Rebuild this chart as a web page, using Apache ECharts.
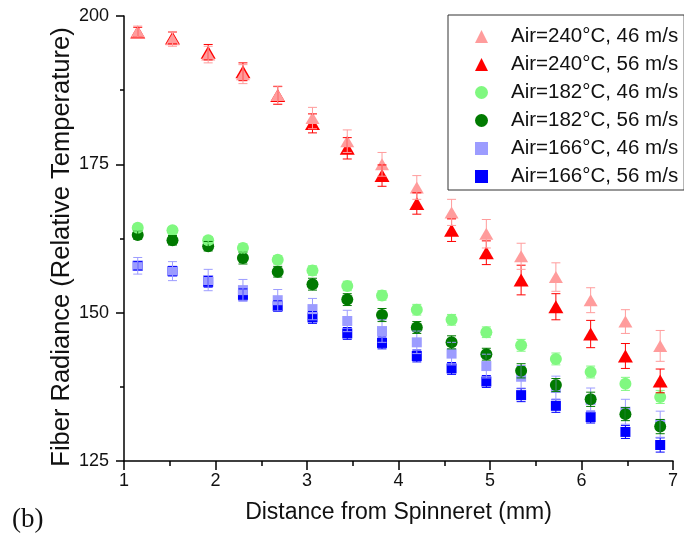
<!DOCTYPE html>
<html>
<head>
<meta charset="utf-8">
<script src="https://cdn.jsdelivr.net/npm/echarts@6/dist/echarts.min.js"></script>
<style>
  html, body { margin: 0; padding: 0; background: #fff; }
  #chart { width: 684px; height: 541px; }
</style>
</head>
<body>
<div id="chart"></div>
<script>
'use strict';
// distance from spinneret (mm)
var distances = [1.15, 1.53, 1.92, 2.30, 2.68, 3.06, 3.44, 3.82, 4.20, 4.58, 4.96, 5.34, 5.72, 6.10, 6.48, 6.86];

var seriesNames = ['Air=240°C, 46 m/s', 'Air=240°C, 56 m/s', 'Air=182°C, 46 m/s',
                   'Air=182°C, 56 m/s', 'Air=166°C, 46 m/s', 'Air=166°C, 56 m/s'];

var radiance240_46 = [197.4, 196.1, 193.5, 190.2, 186.7, 182.8, 178.9, 175.0, 171.1, 166.9, 163.3, 159.5, 156.0, 152.1, 148.5, 144.4];
var radiance240_56 = [197.3, 196.3, 193.9, 190.6, 186.6, 181.9, 177.7, 173.1, 168.4, 163.9, 160.1, 155.5, 151.0, 146.4, 142.7, 138.5];
var radiance182_46 = [164.3, 163.9, 162.2, 160.9, 158.9, 157.1, 154.5, 152.9, 150.5, 148.8, 146.7, 144.5, 142.2, 140.0, 138.0, 135.8];
var radiance182_56 = [163.1, 162.2, 161.2, 159.2, 156.9, 154.8, 152.2, 149.6, 147.5, 145.0, 143.0, 140.2, 137.8, 135.4, 132.9, 130.8];
var radiance166_46 = [157.9, 157.0, 155.5, 153.8, 152.1, 150.6, 148.6, 146.9, 145.0, 143.1, 141.0, 139.2, 137.3, 135.3, 133.3, 131.2];
var radiance166_56 = [157.9, 157.0, 155.2, 153.0, 151.1, 149.2, 146.5, 144.9, 142.7, 140.6, 138.4, 136.1, 134.3, 132.4, 129.9, 127.7];

// error bar half-lengths
var err240_46 = [0.9, 1.2, 1.4, 1.6, 1.5, 1.8, 1.9, 2.0, 2.0, 2.2, 2.4, 2.2, 2.4, 2.1, 2.0, 2.6];
var err240_56 = [0.8, 1.0, 1.3, 1.5, 1.5, 1.6, 1.8, 1.8, 1.8, 1.9, 2.0, 2.5, 2.2, 2.3, 2.1, 2.0];
var err182_46 = [0.5, 0.6, 0.6, 0.7, 0.7, 0.8, 0.8, 0.8, 0.9, 0.9, 0.9, 1.0, 1.0, 1.0, 1.1, 1.1];
var err182_56 = [0.7, 0.8, 0.8, 1.0, 0.9, 1.0, 1.0, 1.1, 1.0, 1.1, 1.0, 1.2, 1.1, 1.2, 1.1, 1.2];
var err166_46 = [1.4, 1.6, 1.8, 1.8, 1.8, 1.8, 1.8, 1.9, 1.9, 1.9, 2.0, 1.9, 2.0, 2.0, 2.1, 2.2];
var err166_56 = [0.7, 0.8, 0.9, 1.0, 0.9, 1.0, 1.0, 1.0, 1.0, 1.0, 1.0, 1.1, 1.1, 1.0, 1.1, 1.2];

var xTicks = [1, 2, 3, 4, 5, 6, 7];
var yTicks = [125, 150, 175, 200];

var FONT = "'Liberation Sans', Arial, sans-serif";

// legend order
var groups = [
  { values: radiance240_46, errors: err240_46, color: '#FF9C9C', symbol: 'triangle', size: [14, 12] },
  { values: radiance240_56, errors: err240_56, color: '#FF0000', symbol: 'triangle', size: [15, 13] },
  { values: radiance182_46, errors: err182_46, color: '#80F880', symbol: 'circle', size: 12 },
  { values: radiance182_56, errors: err182_56, color: '#007A00', symbol: 'circle', size: 12 },
  { values: radiance166_46, errors: err166_46, color: '#9C9CFF', symbol: 'rect', size: 10 },
  { values: radiance166_56, errors: err166_56, color: '#0000FF', symbol: 'rect', size: 10 }
];
// drawing order: 166 first, 240 last, light over dark
var drawOrder = [5, 4, 3, 2, 1, 0];

function renderError(params, api) {
  var x = api.value(0);
  var top = api.coord([x, api.value(2)]);
  var bot = api.coord([x, api.value(1)]);
  var w = 4.5;
  var style = { stroke: api.visual('color'), lineWidth: 1 };
  return {
    type: 'group',
    children: [
      { type: 'line', shape: { x1: top[0], y1: top[1], x2: bot[0], y2: bot[1] }, style: style },
      { type: 'line', shape: { x1: top[0] - w, y1: top[1], x2: top[0] + w, y2: top[1] }, style: style },
      { type: 'line', shape: { x1: bot[0] - w, y1: bot[1], x2: bot[0] + w, y2: bot[1] }, style: style }
    ]
  };
}

var series = [];
drawOrder.forEach(function(i) {
  var g = groups[i];
  series.push({
    name: seriesNames[i],
    type: 'scatter',
    symbol: g.symbol,
    symbolSize: g.size,
    itemStyle: { color: g.color, opacity: 1 },
    data: distances.map(function(x, k) { return [x, g.values[k]]; })
  });
});
// error bars on top of the markers
drawOrder.forEach(function(i) {
  var g = groups[i];
  series.push({
    name: 'err' + i,
    type: 'custom',
    renderItem: renderError,
    itemStyle: { color: g.color },
    silent: true,
    z: 3,
    data: distances.map(function(x, k) {
      return [x, g.values[k] - g.errors[k], g.values[k] + g.errors[k]];
    })
  });
});

var myChart = echarts.init(document.getElementById('chart'));
var option = {
  animation: false,
  backgroundColor: '#fff',
  grid: { left: 124, right: 11, top: 16, bottom: 80, containLabel: false, outerBoundsMode: 'none' },
  legend: {
    orient: 'vertical',
    left: 448,
    top: 15,
    data: seriesNames.map(function(n, i) { return { name: n, icon: groups[i].symbol }; }),
    itemWidth: 13,
    itemHeight: 13,
    itemGap: 7,
    padding: [11, 6, 3, 27],
    borderColor: '#333',
    borderWidth: 1,
    borderRadius: 0,
    selectedMode: false,
    textStyle: { fontFamily: FONT, fontSize: 20.5, color: '#111', padding: [0, 0, 0, 18] }
  },
  xAxis: {
    type: 'value',
    min: 1,
    max: 7,
    interval: 1,
    name: 'Distance from Spinneret (mm)',
    nameLocation: 'middle',
    nameGap: 40,
    nameTextStyle: { fontFamily: FONT, fontSize: 23, color: '#111' },
    axisLine: { lineStyle: { color: '#000', width: 1.5 } },
    axisTick: { length: 9, lineStyle: { color: '#000', width: 1.5 } },
    minorTick: { show: true, splitNumber: 2, length: 5, lineStyle: { color: '#000', width: 1.5 } },
    splitLine: { show: false },
    axisLabel: {
      margin: 11,
      fontFamily: FONT, fontSize: 18, color: '#111',
      formatter: function(v) { return xTicks.indexOf(v) >= 0 ? String(v) : ''; }
    }
  },
  yAxis: {
    type: 'value',
    min: 125,
    max: 200,
    interval: 25,
    axisLine: { show: true, lineStyle: { color: '#000', width: 1.5 } },
    axisTick: { length: 8, lineStyle: { color: '#000', width: 1.5 } },
    minorTick: { show: true, splitNumber: 2, length: 4, lineStyle: { color: '#000', width: 1.5 } },
    splitLine: { show: false },
    axisLabel: {
      margin: 15,
      fontFamily: FONT, fontSize: 18, color: '#111',
      formatter: function(v) { return yTicks.indexOf(v) >= 0 ? String(v) : ''; }
    }
  },
  graphic: [{
    type: 'text',
    x: 62,
    y: 247,
    rotation: Math.PI / 2,
    style: {
      text: 'Fiber Radiance (Relative Temperature)',
      font: "25.5px 'Liberation Sans', Arial, sans-serif",
      fill: '#111',
      align: 'center',
      verticalAlign: 'middle'
    }
  }, {
    type: 'text',
    left: 12,
    top: 506,
    style: { text: '(b)', font: "27px 'Liberation Serif', 'Times New Roman', serif", fill: '#111' }
  }],
  series: series
};
myChart.setOption(option);
</script>
</body>
</html>
